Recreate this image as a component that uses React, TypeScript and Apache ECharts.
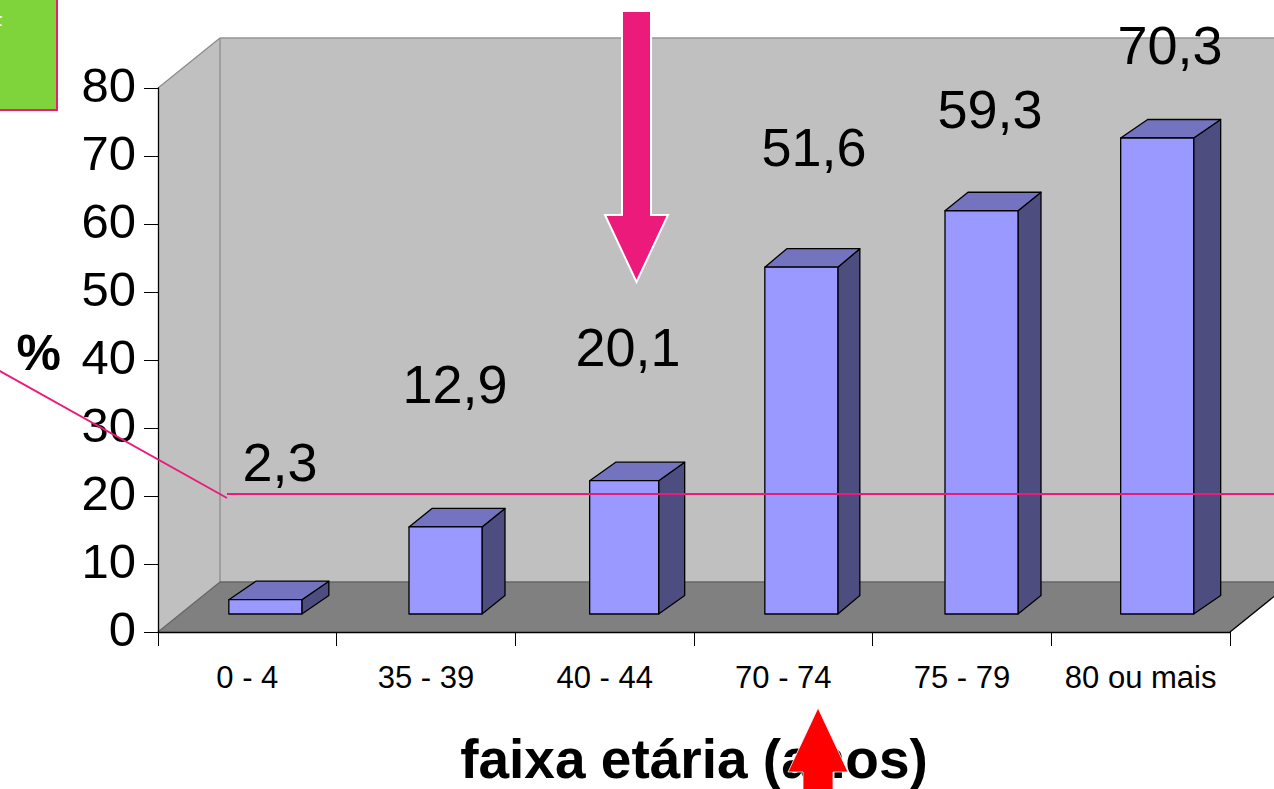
import React, { useEffect, useRef } from "react";
import * as echarts from "echarts";

const categories = ["0 - 4", "35 - 39", "40 - 44", "70 - 74", "75 - 79", "80 ou mais"];
const barValues = [2.1, 12.8, 19.6, 51, 59.3, 70];
const printedLabels = ["2,3", "12,9", "20,1", "51,6", "59,3", "70,3"];

const labelCentersX = [280, 455, 628, 814, 990, 1170];
const labelCentersY = [462, 384, 347, 147, 109, 45];
const barLeftOffset = [-18.5, -17, -15, -18.5, -17, -20];
const barWidths = [73, 73, 69, 73, 73, 73];
const barDepthsX = [27, 23, 26, 22, 23, 27];

const FONT = '"Liberation Sans", Arial, sans-serif';
const PINK = "#ec1a7b";
const DX_WALL = 62;
const DY_WALL = 50;
const BAR_DY = 18.5;
const FLOOR_LIFT = 18;

function renderWalls(params: any) {
  const c = params.coordSys;
  const L = c.x, T = c.y, R = c.x + c.width, B = c.y + c.height;
  const poly = (points: number[][], fill: string) => ({
    type: "polygon",
    shape: { points },
    style: { fill, stroke: "none" },
  });
  const line = (x1: number, y1: number, x2: number, y2: number, stroke: string) => ({
    type: "line",
    shape: { x1, y1, x2, y2 },
    style: { stroke, lineWidth: 1.3 },
  });
  return {
    type: "group",
    children: [
      poly([[L + DX_WALL, T - DY_WALL], [R + DX_WALL, T - DY_WALL], [R + DX_WALL, B - DY_WALL], [L + DX_WALL, B - DY_WALL]], "#c0c0c0"),
      poly([[L, T], [L + DX_WALL, T - DY_WALL], [L + DX_WALL, B - DY_WALL], [L, B]], "#c0c0c0"),
      poly([[L, B], [L + DX_WALL, B - DY_WALL], [R + DX_WALL, B - DY_WALL], [R, B]], "#808080"),
      line(L, T, L + DX_WALL, T - DY_WALL, "#8c8c8c"),
      line(L + DX_WALL, T - DY_WALL, R + DX_WALL, T - DY_WALL, "#969696"),
      line(L + DX_WALL, T - DY_WALL, L + DX_WALL, B - DY_WALL, "#8c8c8c"),
      line(L + DX_WALL, B - DY_WALL, R + DX_WALL, B - DY_WALL, "#666666"),
      line(L, B, L + DX_WALL, B - DY_WALL, "#666666"),
      line(R, B, R + DX_WALL, B - DY_WALL, "#000000"),
    ],
  };
}

function renderBar(params: any, api: any) {
  const idx = api.value(0);
  const base = api.coord([idx, 0]);
  const top = api.coord([idx, api.value(1)]);
  const xl = base[0] + barLeftOffset[idx];
  const xr = xl + barWidths[idx];
  const dx = barDepthsX[idx];
  const yb = base[1] - FLOOR_LIFT;
  const yt = top[1] - FLOOR_LIFT;
  const style = (fill: string) => ({ fill, stroke: "#000000", lineWidth: 1.3, lineJoin: "round" });
  return {
    type: "group",
    children: [
      { type: "polygon", shape: { points: [[xr, yb], [xr + dx, yb - BAR_DY], [xr + dx, yt - BAR_DY], [xr, yt]] }, style: style("#4d4d80") },
      { type: "polygon", shape: { points: [[xl, yt], [xl + dx, yt - BAR_DY], [xr + dx, yt - BAR_DY], [xr, yt]] }, style: style("#7373bf") },
      { type: "polygon", shape: { points: [[xl, yb], [xl, yt], [xr, yt], [xr, yb]] }, style: style("#9999ff") },
    ],
  };
}

export default function App() {
  const ref = useRef<HTMLDivElement>(null);
  useEffect(() => {
    const chart = echarts.init(ref.current!, undefined, { renderer: "svg" });
    const labelTexts = printedLabels.map((t, i) => ({
      type: "text",
      x: labelCentersX[i],
      y: labelCentersY[i],
      z: 50,
      style: { text: t, fill: "#000000", font: `54px ${FONT}`, align: "center", verticalAlign: "middle" },
    }));
    chart.setOption({
      animation: false,
      backgroundColor: "#ffffff",
      grid: { left: 158, top: 88, width: 1072, height: 544, containLabel: false, outerBoundsMode: "none" },
      xAxis: {
        type: "category",
        data: categories,
        z: 5,
        name: "faixa etária (anos)",
        nameLocation: "middle",
        nameGap: 99,
        nameTextStyle: { fontFamily: FONT, fontWeight: "bold", fontSize: 55, color: "#000000" },
        axisLine: { lineStyle: { color: "#000000", width: 1.3 } },
        axisTick: { show: true, length: 14, alignWithLabel: false, lineStyle: { color: "#000000", width: 1 } },
        axisLabel: { fontFamily: FONT, fontSize: 31, color: "#000000", margin: 30, interval: 0 },
      },
      yAxis: {
        type: "value",
        min: 0,
        max: 80,
        interval: 10,
        z: 5,
        name: "%",
        nameLocation: "middle",
        nameRotate: 0,
        nameGap: 97,
        nameTextStyle: { fontFamily: FONT, fontWeight: "bold", fontSize: 50, color: "#000000", verticalAlign: "bottom", lineHeight: 14 },
        splitLine: { show: false },
        axisLine: { show: true, lineStyle: { color: "#000000", width: 1.3 } },
        axisTick: { show: true, length: 14, lineStyle: { color: "#000000", width: 1 } },
        axisLabel: { fontFamily: FONT, fontSize: 49, color: "#000000", margin: 22, verticalAlign: "bottom", lineHeight: 6 },
      },
      series: [
        { type: "custom", name: "walls", z: 1, silent: true, clip: false, renderItem: renderWalls, data: [[0, 0]], encode: { x: 0, y: 1 } },
        {
          type: "custom",
          name: "bars",
          z: 3,
          clip: false,
          renderItem: renderBar,
          data: categories.map((_, i) => [i, barValues[i]]),
          encode: { x: 0, y: 1 },
        },
      ],
      graphic: [
        ...labelTexts,
        { type: "rect", z: 60, shape: { x: -4, y: -4, width: 61, height: 114 }, style: { fill: "#7ed43a", stroke: PINK, lineWidth: 2 } },
        { type: "text", z: 61, x: -12, y: 12, style: { text: "F", fill: "#ffffff", font: `24px ${FONT}` } },
        { type: "polyline", z: 60, shape: { points: [[-2, 370], [227, 498]] }, style: { stroke: PINK, lineWidth: 2, fill: "none" } },
        { type: "line", z: 60, shape: { x1: 227, y1: 494, x2: 1276, y2: 494 }, style: { stroke: PINK, lineWidth: 2 } },
        {
          type: "polygon",
          z: 70,
          shape: { points: [[622, 11], [651, 11], [651, 215], [668, 215], [636.5, 282], [605, 215], [622, 215]] },
          style: { fill: PINK, stroke: "#ffffff", lineWidth: 2 },
        },
        {
          type: "polygon",
          z: 71,
          shape: { points: [[818, 708], [848, 772], [833, 772], [833, 795], [803, 795], [803, 772], [788, 772]] },
          style: { fill: "#ff0000", stroke: "#ffffff", lineWidth: 0.8 },
        },
      ],
    });
    return () => chart.dispose();
  }, []);
  return (
    <div
      ref={ref}
      style={{ position: "fixed", left: 0, top: 0, width: 1274, height: 789, overflow: "hidden", background: "#fff" }}
    />
  );
}
